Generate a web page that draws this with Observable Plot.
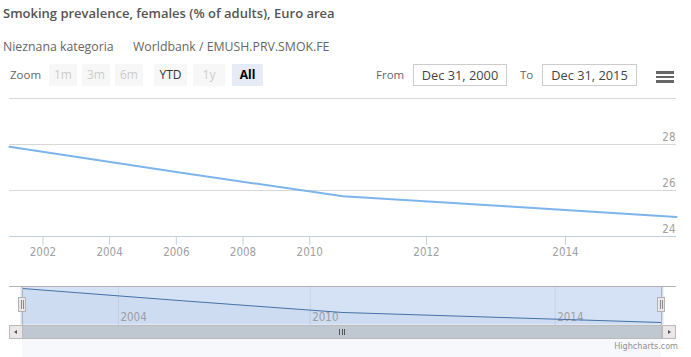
<!DOCTYPE html>
<html>
<head>
<meta charset="utf-8">
<script src="https://cdn.jsdelivr.net/npm/d3@7"></script>
<script src="https://cdn.jsdelivr.net/npm/@observablehq/plot@0.6"></script>
<style>
  html, body { margin: 0; padding: 0; background: #fff; }
  #root { position: relative; width: 691px; height: 357px; overflow: hidden; font-family: "Open Sans", sans-serif; }
  .abs { position: absolute; white-space: nowrap; }
  .title { left: 3px; top: 5px; font-size: 13px; font-weight: 600; color: #555; line-height: 17px; }
  .sub { top: 38px; font-size: 12.3px; color: #666; line-height: 17px; }
  .zoomlbl { left: 10px; top: 67px; font-size: 11.5px; color: #666; line-height: 16px; }
  .btn { top: 64px; height: 22px; line-height: 22px; text-align: center; font-size: 12px; background: #f7f7f7; color: #ccc; border-radius: 1px; }
  .btn.on { color: #333; }
  .btn.sel { background: #e6ebf5; color: #000; font-weight: 700; }
  .lbl { top: 67px; font-size: 11.5px; color: #666; line-height: 16px; }
  .inp { top: 64px; height: 20px; border: 1px solid #ccc; font-size: 12.8px; color: #444; line-height: 20px; text-align: center; }
  .bar { left: 656px; width: 18px; height: 2.6px; background: #666; }
  .credit { right: 13px; top: 341px; font-size: 9px; color: #909090; font-family: "DejaVu Sans Condensed", sans-serif; }
  .sb { position: absolute; box-sizing: border-box; }
</style>
</head>
<body>
<div id="root">
  <div class="abs title">Smoking prevalence, females (% of adults), Euro area</div>
  <div class="abs sub" style="left:3px">Nieznana kategoria</div>
  <div class="abs sub" style="left:133px">Worldbank / EMUSH.PRV.SMOK.FE</div>
  <div class="abs zoomlbl">Zoom</div>
  <div id="buttons"></div>
  <div class="abs lbl" style="left:376px">From</div>
  <div class="abs inp" style="left:413px;width:92px">Dec 31, 2000</div>
  <div class="abs lbl" style="left:520px">To</div>
  <div class="abs inp" style="left:542px;width:93px">Dec 31, 2015</div>
  <div class="abs bar" style="top:71px"></div>
  <div class="abs bar" style="top:75.5px"></div>
  <div class="abs bar" style="top:80px"></div>
  <div id="main" class="abs" style="left:0;top:88px"></div>
  <div id="nav" class="abs" style="left:0;top:286px"></div>
  <!-- navigator outline & scrollbar -->
  <div class="sb" style="left:9px;top:285.5px;width:667px;height:1px;background:#b2b1b6"></div>
  <div class="sb" style="left:22px;top:286px;width:1px;height:39px;background:#b2b1b6"></div>
  <div class="sb" style="left:661px;top:286px;width:1px;height:39px;background:#b2b1b6"></div>
  <div class="sb" style="left:18px;top:297px;width:8px;height:15px;background:#ebe7e8;border:1px solid #b2b1b6"></div>
  <div class="sb" style="left:657px;top:297px;width:8px;height:15px;background:#ebe7e8;border:1px solid #b2b1b6"></div>
  <div class="sb" style="left:20.5px;top:300px;width:1px;height:9px;background:#888"></div>
  <div class="sb" style="left:22.5px;top:300px;width:1px;height:9px;background:#888"></div>
  <div class="sb" style="left:659.5px;top:300px;width:1px;height:9px;background:#888"></div>
  <div class="sb" style="left:661.5px;top:300px;width:1px;height:9px;background:#888"></div>
  <div class="sb" style="left:9px;top:325px;width:667px;height:14px;background:#eeeeee;border:1px solid #bbb"></div>
  <div class="sb" style="left:22px;top:325px;width:640px;height:14px;background:#bfc8d1;border:1px solid #bbb"></div>
  <div class="sb" style="left:9px;top:325px;width:14px;height:14px;background:#ebe7e8;border:1px solid #bbb"></div>
  <div class="sb" style="left:662px;top:325px;width:14px;height:14px;background:#ebe7e8;border:1px solid #bbb"></div>
  <div class="sb" style="left:14px;top:329.5px;width:0;height:0;border-top:2.5px solid transparent;border-bottom:2.5px solid transparent;border-right:3px solid #555"></div>
  <div class="sb" style="left:668px;top:329.5px;width:0;height:0;border-top:2.5px solid transparent;border-bottom:2.5px solid transparent;border-left:3px solid #555"></div>
  <div class="sb" style="left:339px;top:329px;width:1px;height:6px;background:#555"></div>
  <div class="sb" style="left:341.5px;top:329px;width:1px;height:6px;background:#555"></div>
  <div class="sb" style="left:344px;top:329px;width:1px;height:6px;background:#555"></div>
  <div class="abs credit">Highcharts.com</div>
</div>
<script>
// ---- data ----
const dataYears = [2000, 2005, 2010, 2012, 2015];        // observations dated Dec 31
const values = [27.9, 26.8, 25.75, 25.3, 24.85];         // % of adults
const xTickYears = [2002, 2004, 2006, 2008, 2010, 2012, 2014];
const navTickYears = [2004, 2010, 2014];
const yTickValues = [24, 26, 28];
const yGridValues = [26, 28, 30];
const yDomain = [24, 30];
const zoomButtons = ["1m", "3m", "6m", "YTD", "1y", "All"];
const zoomState = ["off", "off", "off", "on", "off", "sel"];

// ---- range selector buttons ----
const btnLeft = [49, 82, 115, 154, 193, 232];
const btnWidth = [28, 28, 28, 33, 32, 31];
const bwrap = document.getElementById("buttons");
zoomButtons.forEach((b, i) => {
  const el = document.createElement("div");
  el.className = "abs btn" + (zoomState[i] === "on" ? " on" : zoomState[i] === "sel" ? " sel" : "");
  el.style.left = btnLeft[i] + "px";
  el.style.width = btnWidth[i] + "px";
  el.textContent = b;
  bwrap.appendChild(el);
});

// ---- ordinal (Highcharts-stock style) x positions ----
const pointTimes = dataYears.map(y => Date.UTC(y, 11, 31));
function ordinalIndex(t) {
  for (let i = 0; i < pointTimes.length - 1; i++) {
    if (t <= pointTimes[i + 1]) return i + (t - pointTimes[i]) / (pointTimes[i + 1] - pointTimes[i]);
  }
  return pointTimes.length - 1;
}
const series = dataYears.map((y, i) => ({idx: i, value: values[i]}));
const xTicks = xTickYears.map(y => ordinalIndex(Date.UTC(y, 0, 1)));
const xTickLabel = new Map(xTicks.map((t, i) => [t, String(xTickYears[i])]));
const navTicks = navTickYears.map(y => ordinalIndex(Date.UTC(y, 0, 1)));
const navTickData = navTicks.map((t, i) => ({t, label: String(navTickYears[i])}));
const n = dataYears.length;

const labelFont = "DejaVu Sans Condensed, sans-serif";

const main = Plot.plot({
  width: 691, height: 170,
  marginLeft: 9, marginRight: 15, marginTop: 10, marginBottom: 22,
  x: {type: "linear", domain: [0, n - 1], axis: null},
  y: {domain: yDomain, axis: null},
  style: {fontFamily: labelFont, fontSize: "11.5px", background: "transparent", overflow: "visible"},
  marks: [
    Plot.ruleY(yGridValues, {stroke: "#d8d8d8", strokeWidth: 1}),
    Plot.ruleY([yDomain[0]], {stroke: "#c0d0e0", strokeWidth: 1}),
    Plot.axisX(xTicks, {tickFormat: d => xTickLabel.get(d), tickSize: 9, tickPadding: 2,
      stroke: "#c0d0e0", fill: "#a0a0a0", label: null, fontSize: 11.5}),
    Plot.text(yTickValues, {y: d => d, frameAnchor: "right", text: d => String(d),
      textAnchor: "end", dy: -7, dx: -1, fill: "#a0a0a0", fontSize: 11.5}),
    Plot.line(series, {x: "idx", y: "value", stroke: "#7cb5ec", strokeWidth: 2, curve: "linear"})
  ]
});
document.getElementById("main").appendChild(main);

const nav = Plot.plot({
  width: 691, height: 39,
  marginLeft: 22, marginRight: 30, marginTop: 2, marginBottom: 3,
  x: {type: "linear", domain: [0, n - 1], axis: null},
  y: {domain: d3.extent(values), axis: null},
  style: {fontFamily: labelFont, fontSize: "11.5px", background: "transparent", overflow: "visible"},
  marks: [
    Plot.frame({fill: "#d5e2f5", stroke: null, inset: -2}),
    Plot.ruleX(navTicks, {x: d => d, stroke: "#c4d3ea", strokeWidth: 1, insetTop: -2, insetBottom: -3}),
    Plot.text(navTickData, {x: "t", text: "label", frameAnchor: "bottom", textAnchor: "start",
      dx: 2, dy: -2, fill: "#a0a0a0", fontSize: 11.5}),
    Plot.areaY(series, {x: "idx", y: "value", fill: "#4572a7", fillOpacity: 0.05}),
    Plot.line(series, {x: "idx", y: "value", stroke: "#4572a7", strokeWidth: 1})
  ]
});
document.getElementById("nav").appendChild(nav);
</script>
</body>
</html>
